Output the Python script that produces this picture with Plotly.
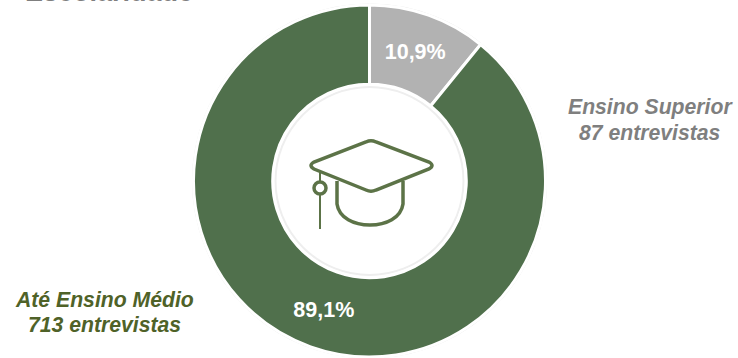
import plotly.graph_objects as go

# Respondents by education level
categories = ["Ensino Superior", "Até Ensino Médio"]
interviews = [87, 713]
slice_colors = ["#b2b2b2", "#50704c"]
heading = "Escolaridade"

WIDTH, HEIGHT = 738, 358
ICON = "#5c7347"
GREY_TEXT = "#7f7f7f"
GREEN_TEXT = "#4f6228"
FONT = "Liberation Sans, Arial, sans-serif"
CX, CY = 369.5, 181


def side_label(text, x, y, color):
    return dict(text=f"<b><i>{text}</i></b>", xref="x", yref="y", x=x, y=y,
                showarrow=False, align="center",
                font=dict(family=FONT, size=21.2, color=color))


def ring(radius, color, width):
    return dict(type="circle", xref="x", yref="y", layer="below",
                x0=CX - radius, x1=CX + radius, y0=CY - radius, y1=CY + radius,
                line=dict(color=color, width=width))


fig = go.Figure()

fig.add_trace(go.Pie(
    labels=categories,
    values=interviews,
    hole=0.55,
    sort=False,
    direction="clockwise",
    rotation=0,
    domain=dict(x=[193 / WIDTH, 546 / WIDTH], y=[1 - 357 / HEIGHT, 1 - 5 / HEIGHT]),
    marker=dict(colors=slice_colors, line=dict(color="white", width=3)),
    texttemplate="%{percent:.1%}",
    textposition="inside",
    insidetextorientation="horizontal",
    textfont=dict(family=FONT, size=21.5, color="white", weight="bold"),
    hoverinfo="label+value+percent",
    showlegend=False,
))

# Heading sits on the top edge of the page
fig.add_trace(go.Scatter(
    x=[25], y=[8], mode="text", text=[f"<b>{heading}</b>"],
    textposition="top right", cliponaxis=False,
    textfont=dict(family=FONT, size=27, color=GREY_TEXT),
    hoverinfo="skip", showlegend=False,
))

line = dict(color=ICON, width=3.5)
fig.update_layout(
    width=WIDTH, height=HEIGHT,
    margin=dict(l=0, r=0, t=0, b=0),
    paper_bgcolor="white", plot_bgcolor="rgba(0,0,0,0)",
    separators=", ",
    xaxis=dict(range=[0, WIDTH], visible=False, fixedrange=True),
    yaxis=dict(range=[HEIGHT, 0], visible=False, fixedrange=True),
    shapes=[
        # soft rims just outside the ring and inside the hole
        ring(176.5, "#e6e6e6", 2),
        ring(94, "#eeeeee", 2),
        # mortarboard
        dict(type="path", xref="x", yref="y", line=line,
             path="M 366 142 Q 371 139.5 376 142 L 429 162 Q 435 165.5 429 169 "
                  "L 376 190 Q 371 192.5 366 190 L 314 169 Q 308 165.5 314 162 Z"),
        # cap body
        dict(type="path", xref="x", yref="y", line=line,
             path="M 337 181 L 337 204 C 339 218 354 225 370 225 "
                  "C 386 225 401 218 403 204 L 403 181"),
        # tassel
        dict(type="line", xref="x", yref="y", x0=320, x1=320, y0=171, y1=182, line=dict(color=ICON, width=2)),
        dict(type="circle", xref="x", yref="y", x0=314, x1=326, y0=182, y1=194, line=line),
        dict(type="line", xref="x", yref="y", x0=320, x1=320, y0=194, y1=229, line=dict(color=ICON, width=2)),
    ],
    annotations=[
        side_label("Ensino Superior", 650, 107, GREY_TEXT),
        side_label("87 entrevistas", 650, 132, GREY_TEXT),
        side_label("Até Ensino Médio", 104, 299, GREEN_TEXT),
        side_label("713 entrevistas", 104, 324, GREEN_TEXT),
    ],
)

fig.write_html("out.html", config=dict(displayModeBar=False))
